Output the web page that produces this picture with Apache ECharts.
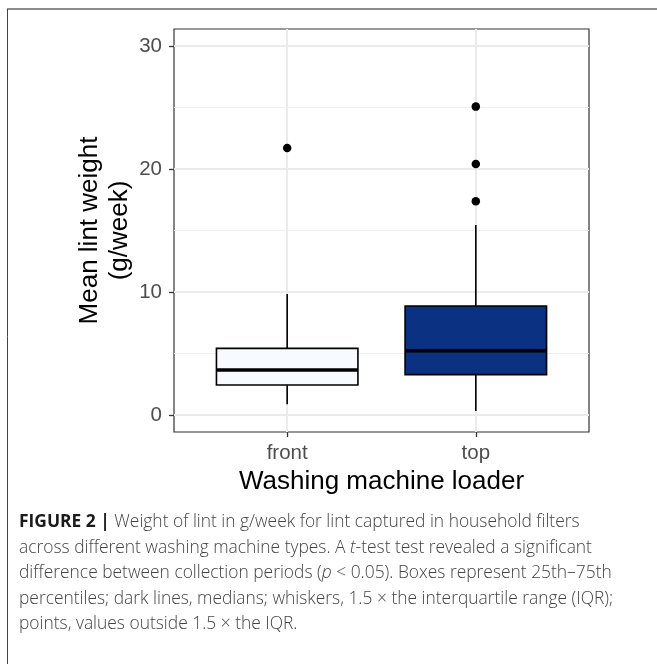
<!DOCTYPE html>
<html>
<head>
<meta charset="utf-8">
<script src="https://cdn.jsdelivr.net/npm/echarts@6/dist/echarts.min.js"></script>
<style>
  html, body { margin: 0; padding: 0; background: #ffffff; }
  #chart { width: 657px; height: 664px; }
</style>
</head>
<body>
<div id="chart"></div>
<script>
// ---- data ----
const categories = ['front', 'top'];
// five-number summaries: [lower whisker, Q1, median, Q3, upper whisker]
const boxStats = [
  [0.87, 2.44, 3.66, 5.42, 9.84],
  [0.33, 3.28, 5.23, 8.86, 15.45]
];
const boxColors = ['#f7fbff', '#0b3282'];
// outliers: [category, value]
const outliers = [
  ['front', 21.7],
  ['top', 25.07],
  ['top', 20.4],
  ['top', 17.37]
];
const yTicks = [0, 10, 20, 30];
const yMinorTicks = [5, 15, 25];
const xTicks = [1, 2];

const captionLines = [
  '{b|FIGURE 2 |} Weight of lint in g/week for lint captured in household filters',
  'across different washing machine types. A {i|t}-test test revealed a significant',
  'difference between collection periods ({i|p} < 0.05). Boxes represent 25th\u201375th',
  'percentiles; dark lines, medians; whiskers, 1.5 \u00d7 the interquartile range (IQR);',
  'points, values outside 1.5 \u00d7 the IQR.'
];

const FONT = '"Liberation Sans", Arial, Helvetica, sans-serif';
const CAPFONT = '"Open Sans", "Liberation Sans", sans-serif';
const CAPSIZE = 17.4;

const boxData = boxStats.map((s, i) => [i + 1].concat(s));
const outlierData = outliers.map(o => [categories.indexOf(o[0]) + 1, o[1]]);

const chart = echarts.init(document.getElementById('chart'), null, { renderer: 'canvas' });

const captionGraphics = captionLines.map((t, i) => ({
  type: 'text',
  left: 19,
  top: 513.5 + i * 25.6,
  style: {
    text: t,
    fill: '#444444',
    font: '300 ' + CAPSIZE + 'px ' + CAPFONT,
    rich: {
      b: { fontWeight: 'bold', fill: '#1a1a1a', fontSize: CAPSIZE, fontFamily: CAPFONT },
      i: { fontStyle: 'italic', fontWeight: 300, fill: '#444444', fontSize: CAPSIZE, fontFamily: CAPFONT }
    }
  }
}));

chart.setOption({
  animation: false,
  backgroundColor: '#ffffff',
  grid: {
    left: 174, top: 29, width: 415, height: 403,
    show: true, borderColor: '#333333', borderWidth: 1.2, backgroundColor: 'transparent',
    containLabel: false
  },
  xAxis: {
    type: 'value',
    min: 0.4, max: 2.6,
    axisLine: { show: false, onZero: false },
    axisTick: { show: true, customValues: xTicks, length: 5, lineStyle: { color: '#333333', width: 1.3 } },
    axisLabel: {
      customValues: xTicks, margin: 11,
      formatter: v => categories[Math.round(v) - 1] || '',
      color: '#4d4d4d', fontSize: 20.5, fontFamily: FONT
    },
    splitLine: { show: true, lineStyle: { color: '#ebebeb', width: 2 } },
    name: 'Washing machine loader',
    nameLocation: 'middle',
    nameGap: 37,
    nameMoveOverlap: false,
    nameTextStyle: { color: '#000000', fontSize: 26, fontFamily: FONT }
  },
  yAxis: [
    {
      type: 'value',
      min: -1.38, max: 31.38,
      axisLine: { show: false, onZero: false },
      axisTick: { show: true, customValues: yTicks, length: 5, lineStyle: { color: '#333333', width: 1.3 } },
      axisLabel: { customValues: yTicks, margin: 12, color: '#4d4d4d', fontSize: 20.5, fontFamily: FONT },
      splitLine: { show: true, lineStyle: { color: '#ebebeb', width: 2 } },
      name: 'Mean lint weight\n(g/week)',
      nameLocation: 'middle',
      nameGap: 39,
      nameMoveOverlap: false,
      nameTextStyle: { color: '#000000', fontSize: 26, lineHeight: 30, fontFamily: FONT, align: 'center' }
    },
    {
      type: 'value',
      min: -1.38, max: 31.38,
      position: 'left',
      axisLine: { show: false, onZero: false },
      axisTick: { show: false, customValues: yMinorTicks },
      axisLabel: { show: false, customValues: yMinorTicks },
      splitLine: { show: true, lineStyle: { color: '#efefef', width: 1.2 } }
    }
  ],
  series: [
    {
      type: 'custom',
      z: 3,
      data: boxData,
      encode: { x: 0, y: [1, 2, 3, 4, 5] },
      renderItem: function (params, api) {
        const x = api.value(0);
        const lo = api.coord([x, api.value(1)]);
        const q1 = api.coord([x, api.value(2)]);
        const md = api.coord([x, api.value(3)]);
        const q3 = api.coord([x, api.value(4)]);
        const hi = api.coord([x, api.value(5)]);
        const halfW = api.size([0.75, 0])[0] / 2;
        const cx = q1[0];
        const ls = { stroke: '#000000', lineWidth: 1.6 };
        return {
          type: 'group',
          children: [
            { type: 'line', shape: { x1: cx, y1: hi[1], x2: cx, y2: q3[1] }, style: ls },
            { type: 'line', shape: { x1: cx, y1: q1[1], x2: cx, y2: lo[1] }, style: ls },
            { type: 'rect', shape: { x: cx - halfW, y: q3[1], width: halfW * 2, height: q1[1] - q3[1] },
              style: { fill: boxColors[params.dataIndex], stroke: '#000000', lineWidth: 1.6 } },
            { type: 'line', shape: { x1: cx - halfW, y1: md[1], x2: cx + halfW, y2: md[1] },
              style: { stroke: '#000000', lineWidth: 3.4 } }
          ]
        };
      }
    },
    {
      type: 'scatter',
      z: 4,
      data: outlierData,
      symbol: 'circle',
      symbolSize: 8.5,
      itemStyle: { color: '#000000', opacity: 1 }
    }
  ],
  graphic: [
    { type: 'line', shape: { x1: 7, y1: 9, x2: 657, y2: 9 }, style: { stroke: '#666666', lineWidth: 1.6 } },
    { type: 'line', shape: { x1: 7.5, y1: 9, x2: 7.5, y2: 664 }, style: { stroke: '#444444', lineWidth: 1 } }
  ].concat(captionGraphics)
});
</script>
</body>
</html>
